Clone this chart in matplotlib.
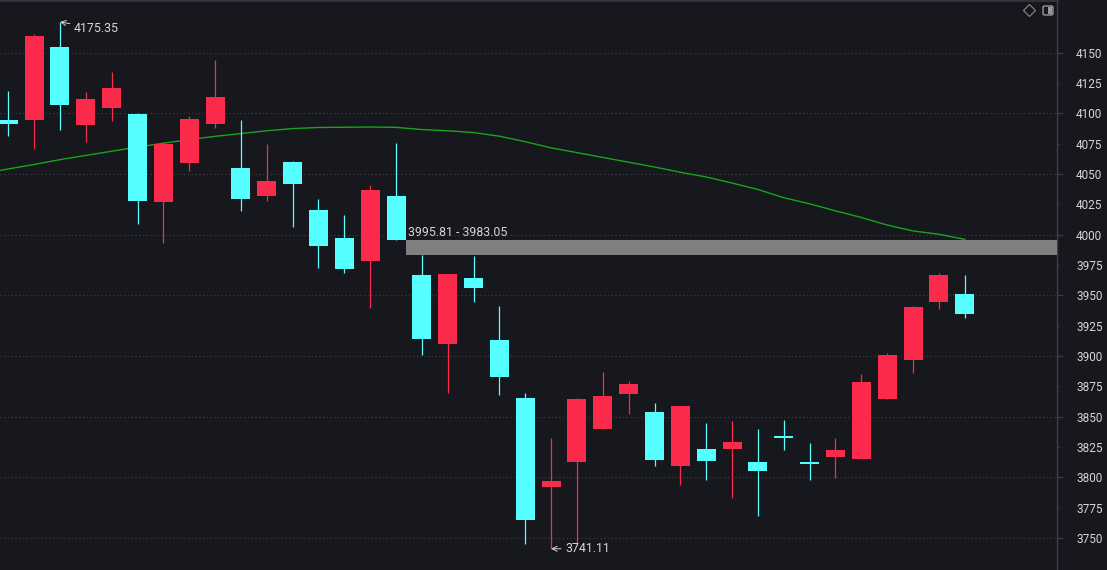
import matplotlib.pyplot as plt
from matplotlib.patches import Rectangle, FancyBboxPatch
from matplotlib.ticker import FixedLocator, FormatStrFormatter

# candle data (index 0..37)
opens = [4094.8, 4094.8, 4154.7, 4090.4, 4104.7, 4099.8, 4027.2, 4059.1, 4091.3, 4055.0,
         4031.9, 4059.9, 4020.4, 3997.3, 3978.6, 4031.9, 3966.8, 3910.1, 3964.3, 3913.2,
         3865.4, 3792.3, 3812.9, 3840.1, 3868.9, 3853.8, 3809.6, 3823.3, 3823.6, 3812.4,
         3834.0, 3812.4, 3817.0, 3815.1, 3864.5, 3896.9, 3944.8, 3951.1]
highs = [4118.5, 4165.5, 4175.35, 4117.6, 4134.1, 4100.2, 4076.4, 4097.9, 4144.0, 4094.6,
         4074.8, 4060.8, 4029.4, 4016.2, 4041.0, 4075.6, 3983.05, 3967.6, 3982.4, 3941.2,
         3869.5, 3832.4, 3865.4, 3886.9, 3879.3, 3861.3, 3858.8, 3844.8, 3846.4, 3839.8,
         3847.2, 3828.3, 3832.4, 3885.2, 3902.2, 3941.2, 3968.4, 3966.8]
lows = [4081.6, 4070.9, 4086.6, 4076.7, 4094.0, 4009.1, 3993.4, 4052.8, 4088.2, 4019.8,
        4027.8, 4006.6, 3972.8, 3968.7, 3939.8, 3995.81, 3901.1, 3869.7, 3944.8, 3868.1,
        3745.3, 3741.11, 3744.2, 3840.1, 3852.2, 3809.6, 3793.9, 3798.0, 3783.2, 3768.3,
        3822.7, 3798.0, 3799.7, 3815.1, 3864.5, 3886.2, 3939.0, 3931.6]
closes = [4091.5, 4163.8, 4107.2, 4111.9, 4120.9, 4027.8, 4075.0, 4095.4, 4113.5, 4029.4,
          4044.3, 4042.0, 3990.9, 3972.0, 4036.9, 3995.81, 3914.3, 3967.6, 3956.3, 3882.9,
          3765.0, 3797.0, 3864.6, 3867.0, 3876.9, 3814.5, 3858.8, 3813.7, 3829.1, 3805.4,
          3832.8, 3810.6, 3822.5, 3878.6, 3900.8, 3940.4, 3966.8, 3934.9]

# moving average line, index -1..37
ma_values = [4050.5, 4054.2, 4057.9, 4061.9, 4065.4, 4068.8, 4072.3, 4075.4, 4078.5, 4081.1,
             4083.4, 4085.7, 4087.5, 4088.4, 4088.6, 4088.8, 4088.5, 4086.7, 4085.7, 4084.2,
             4081.2, 4076.7, 4071.6, 4067.7, 4063.7, 4059.8, 4055.8, 4051.5, 4047.6, 4042.6,
             4037.3, 4030.5, 4025.5, 4019.7, 4014.2, 4008.0, 4003.1, 4000.4, 3996.2]

gap_low = 3983.05
gap_high = 3995.81
gap_label = "3995.81 - 3983.05"

bg = "#17171e"
up_color = "#fa2a4a"
down_color = "#55ffff"
text_color = "#d6d6d6"

fig = plt.figure(figsize=(11.07, 5.70), dpi=100)
fig.patch.set_facecolor(bg)
ax = fig.add_axes([0, 0, 1057 / 1107, 1])
ax.set_facecolor(bg)

n = len(opens)
xs = list(range(n))
body_w = 0.735
colors = [up_color if c >= o else down_color for o, c in zip(opens, closes)]

ax.vlines(xs, lows, highs, colors=colors, linewidth=0.9, zorder=3)
heights = [c - o for o, c in zip(opens, closes)]
ax.bar(xs, heights, bottom=opens, width=body_w, color=colors, linewidth=0, zorder=4)

ax.plot(range(-1, n), ma_values, color="#16a51c", linewidth=1.0, zorder=2)

# gap zone
xmax = 40.57
ax.fill_between([15 + body_w / 2, xmax], gap_low, gap_high, color="#808080", linewidth=0, zorder=5)
ax.text(15.46, gap_high + 1.0, gap_label, color=text_color, fontsize=8.9, family="Roboto",
        ha="left", va="bottom", zorder=6)

# high / low markers
ax.annotate("4175.35", xy=(2, 4175.35), xytext=(14, -6), textcoords="offset pixels",
            color=text_color, fontsize=8.9, family="Roboto", ha="left", va="center",
            arrowprops=dict(arrowstyle="->", color=text_color, lw=0.7, shrinkA=1, shrinkB=0))
ax.annotate("3741.11", xy=(21, 3741.11), xytext=(14, 0), textcoords="offset pixels",
            color=text_color, fontsize=8.9, family="Roboto", ha="left", va="center",
            arrowprops=dict(arrowstyle="->", color=text_color, lw=0.7, shrinkA=1, shrinkB=0))

ax.set_xlim(-0.321, xmax)
ax.set_ylim(3723.6, 4193.5)

# dotted gridlines every 50
for g in range(3750, 4200, 50):
    ax.axhline(g, color="#3a3a44", linewidth=0.9, linestyle=(0, (1, 2)), zorder=1)

ax.yaxis.tick_right()
ax.yaxis.set_major_locator(FixedLocator(list(range(3750, 4200, 50))))
ax.yaxis.set_minor_locator(FixedLocator(list(range(3775, 4150, 50))))
ax.yaxis.set_major_formatter(FormatStrFormatter("%d"))
ax.yaxis.set_minor_formatter(FormatStrFormatter("%d"))
ax.tick_params(axis="y", which="major", length=4.3, width=0.8, color="#3d3d48",
               labelcolor=text_color, labelsize=8.5, pad=9.5, direction="out")
ax.tick_params(axis="y", which="minor", length=1.5, width=0.8, color="#3d3d48",
               labelcolor=text_color, labelsize=8.5, pad=12.3, direction="out")
for lab in ax.get_yticklabels(which="both"):
    lab.set_family("Roboto")
ax.set_xticks([])

for side in ["left", "bottom"]:
    ax.spines[side].set_visible(False)
ax.spines["right"].set_color("#3d3d48")
ax.spines["right"].set_linewidth(1.0)
ax.spines["top"].set_color("#33333d")
ax.spines["top"].set_linewidth(2.0)

# small icons in the upper right corner
W, H = 1107, 570
ax.plot([1029 / 1057], [1 - 10 / H], marker="D", markersize=6, mfc="none", mec="#8a8a8a",
        mew=0.8, transform=ax.transAxes, clip_on=False)
fig.add_artist(FancyBboxPatch((1043 / W, 1 - 15 / H), 10 / W, 9 / H,
                              boxstyle="round,pad=0,rounding_size=0.002",
                              fc="none", ec="#9a9a9a", lw=1.0, transform=fig.transFigure))
fig.add_artist(Rectangle((1048 / W, 1 - 13.5 / H), 4 / W, 6 / H, fc="#9a9a9a", ec="none",
                         transform=fig.transFigure))

fig.savefig("out.png", dpi=100, facecolor=bg)
